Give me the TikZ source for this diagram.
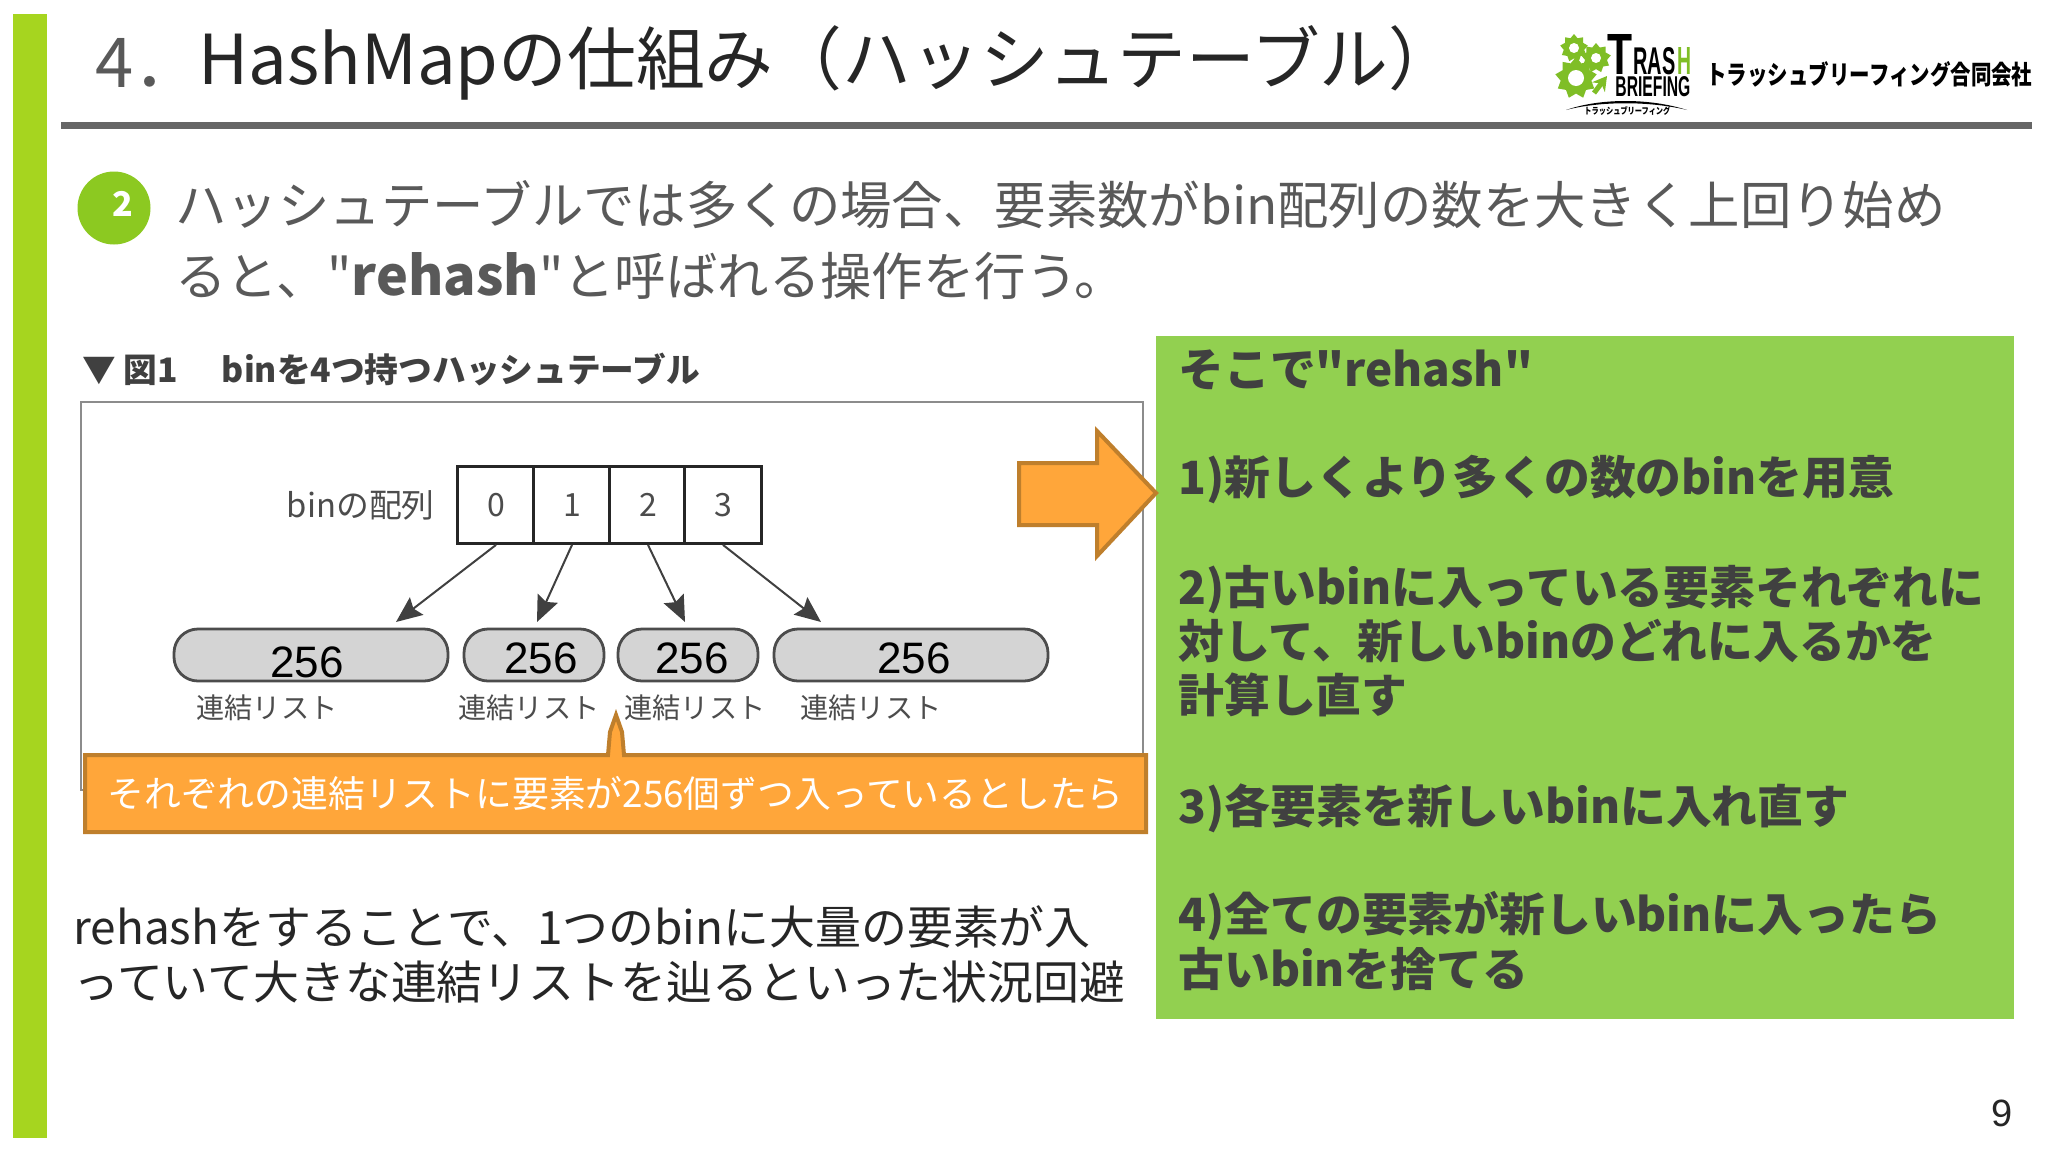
\documentclass[tikz,border=0pt]{standalone}
\usepackage{fontspec}
\setmainfont[Ligatures=TeXOff]{Noto Sans CJK JP}
\newfontfamily\latinfont{Liberation Sans}
\usetikzlibrary{arrows.meta,shapes.geometric}
\definecolor{barGreen}{HTML}{A6D51F}
\definecolor{panelGreen}{HTML}{92D050}
\definecolor{dotGreen}{HTML}{8CC921}
\definecolor{logoGreen}{HTML}{7FBE26}
\definecolor{calloutFill}{HTML}{FFA63A}
\definecolor{calloutEdge}{HTML}{BF7F2C}
\definecolor{bodyGray}{HTML}{595959}
\definecolor{panelText}{HTML}{404040}
\tikzset{
  txt/.style={inner sep=0pt,anchor=west},
  body/.style={txt,text=bodyGray,font=\fontsize{25.7}{30}\selectfont},
  panelline/.style={txt,text=panelText,font=\fontsize{22.9}{26}\selectfont\bfseries},
  noteline/.style={txt,text=black!85,font=\fontsize{22.95}{27}\selectfont},
  figlabel/.style={inner sep=0pt,text=black!70,font=\fontsize{14.1}{16}\selectfont},
  cell/.style={draw=black!85,line width=1.4pt,fill=white,minimum width=38.5pt,minimum height=38.5pt,inner sep=0pt,text=black!70,font=\fontsize{16}{18}\selectfont},
  pill/.style={draw=black!70,line width=1.4pt,fill=black!17,rounded corners=12pt,minimum height=26pt,inner sep=0pt},
  count/.style={inner sep=0pt,font=\latinfont\fontsize{22}{26}\selectfont},
  binarrow/.style={draw=black!75,line width=1pt,-{Stealth[length=13pt,width=11pt,inset=2pt]}},
  gear/.style={star,star points=9,star point ratio=1.35,fill=logoGreen,inner sep=0pt},
  gearhole/.style={circle,fill=white,inner sep=0pt},
}
\begin{document}
\begin{tikzpicture}[x=0.5pt,y=-0.5pt]
  \useasboundingbox (0,0) rectangle (2048,1152);
  \fill[white] (0,0) rectangle (2048,1152);
  \fill[barGreen] (13,14) rectangle (47,1138);
  \fill[black!60] (61,122) rectangle (2032,129);
  \node[txt,text=bodyGray,font=\fontsize{34.4}{40}\selectfont] (num) at (95,63) {4．};
  \node[txt,text=black!85,font=\fontsize{34.4}{40}\selectfont] (title) at (198,63) {HashMapの仕組み（ハッシュテーブル）};

  \node[gear,minimum size=14pt] (gearA) at (1574,48) {};
  \node[gearhole,minimum size=5pt] at (gearA) {};
  \node[gear,minimum size=15pt] (gearB) at (1596,58) {};
  \node[gearhole,minimum size=5pt] at (gearB) {};
  \node[gear,minimum size=21pt] (gearC) at (1576,78) {};
  \node[gearhole,minimum size=8pt] at (gearC) {};
  \coordinate (up0) at (1594,93);
  \coordinate (up1) at (1607,76);
  \draw[logoGreen,line width=2.5pt,-{Stealth[length=7pt,width=8pt]}] (up0) -- (up1);
  \node[inner sep=0pt,anchor=north west] (logoT) at (1607,34) {\resizebox{12.5pt}{20pt}{\latinfont\bfseries T}};
  \node[inner sep=0pt,anchor=north west] (logoR) at (1633,47) {\resizebox{21pt}{13.5pt}{\latinfont\bfseries RAS}};
  \node[inner sep=0pt,anchor=north west,text=logoGreen] (logoH) at (1677,47) {\resizebox{7pt}{13.5pt}{\latinfont\bfseries H}};
  \node[inner sep=0pt,anchor=north west] (logoB) at (1615,76) {\resizebox{37.5pt}{10pt}{\latinfont\bfseries BRIEFING}};
  \fill[black] (1566,110) .. controls (1600,98) and (1650,98) .. (1687,110) .. controls (1650,101) and (1600,101) .. (1566,110);
  \node[inner sep=0pt,anchor=north west] (logoS) at (1584,106) {\resizebox{43pt}{4pt}{\bfseries トラッシュブリーフィング}};
  \node[inner sep=0pt,anchor=north west] (logoN) at (1706,61) {\resizebox{163pt}{11.5pt}{\bfseries トラッシュブリーフィング合同会社}};

  \node[circle,fill=dotGreen,minimum size=36.5pt,inner sep=0pt] (dot) at (114,208) {};
  \node[inner sep=0pt,text=white,font=\fontsize{17}{20}\selectfont\bfseries] (dotnum) at (123,204) {2};
  \node[body] (line1) at (175,205) {ハッシュテーブルでは多くの場合、要素数がbin配列の数を大きく上回り始め};
  \node[body] (line2) at (175,276) {ると、"\textbf{\fontsize{26.9}{30}\selectfont rehash}"と呼ばれる操作を行う。};

  \node[txt,text=black!75,font=\fontsize{16.85}{20}\selectfont\bfseries] (fighead) at (82,369) {▼ 図1\hspace{1.3em}binを4つ持つハッシュテーブル};
  \draw[black!45,line width=0.8pt,fill=white] (81,402) rectangle (1143,790);

  \node[figlabel,anchor=east,font=\fontsize{16.4}{18}\selectfont] (binlabel) at (435,505) {binの配列};
  \foreach \i/\px in {0/496,1/572,2/648,3/723}
    \node[cell] (cell\i) at (\px,505) {\i};

  \node[pill,minimum width=137pt] (pillA) at (311,655) {};
  \node[pill,minimum width=70pt] (pillB) at (534,655) {};
  \node[pill,minimum width=70pt] (pillC) at (688,655) {};
  \node[pill,minimum width=137pt] (pillD) at (911,655) {};
  \node[count] (countA) at (307,662) {256};
  \node[count] (countB) at (541,658) {256};
  \node[count] (countC) at (692,658) {256};
  \node[count] (countD) at (914,658) {256};
  \node[figlabel] (listA) at (267,708) {連結リスト};
  \node[figlabel] (listB) at (529,708) {連結リスト};
  \node[figlabel] (listC) at (695,708) {連結リスト};
  \node[figlabel] (listD) at (871,708) {連結リスト};

  \coordinate (endA) at (396,622);
  \coordinate (endB) at (537,622);
  \coordinate (endC) at (685,622);
  \coordinate (endD) at (821,622);
  \draw[binarrow] (cell0.south) -- (endA);
  \draw[binarrow] (cell1.south) -- (endB);
  \draw[binarrow] (cell2.south) -- (endC);
  \draw[binarrow] (cell3.south) -- (endD);

  \draw[calloutEdge,fill=calloutFill,line width=2pt,line join=miter] (85,755) -- (608,755) -- (610,732) -- (616,715) -- (622,732) -- (624,755) -- (1146,755) -- (1146,832) -- (85,832) -- cycle;
  \node[txt,text=white,font=\fontsize{18.4}{21}\selectfont] (calloutText) at (107,793) {それぞれの連結リストに要素が256個ずつ入っているとしたら};

  \fill[panelGreen] (1156,336) rectangle (2014,1019);
  \draw[calloutEdge,fill=calloutFill,line width=2pt,line join=miter] (1019,463) -- (1097,463) -- (1097,431) -- (1156,493) -- (1097,556) -- (1097,525) -- (1019,525) -- cycle;
  \node[panelline] (p0) at (1178,370) {そこで"rehash"};
  \node[panelline] (p1) at (1178,480) {1)新しくより多くの数のbinを用意};
  \node[panelline] (p2) at (1178,590) {2)古いbinに入っている要素それぞれに};
  \node[panelline] (p3) at (1178,641) {対して、新しいbinのどれに入るかを};
  \node[panelline] (p4) at (1178,695) {計算し直す};
  \node[panelline] (p5) at (1178,808) {3)各要素を新しいbinに入れ直す};
  \node[panelline] (p6) at (1178,916) {4)全ての要素が新しいbinに入ったら};
  \node[panelline] (p7) at (1178,969) {古いbinを捨てる};

  \node[noteline] (n1) at (73,927) {rehashをすることで、1つのbinに大量の要素が入};
  \node[noteline] (n2) at (73,982) {っていて大きな連結リストを辿るといった状況回避};

  \node[inner sep=0pt,text=black!85,font=\latinfont\fontsize{19}{20}\selectfont] (page) at (2002,1113) {9};
\end{tikzpicture}
\end{document}
